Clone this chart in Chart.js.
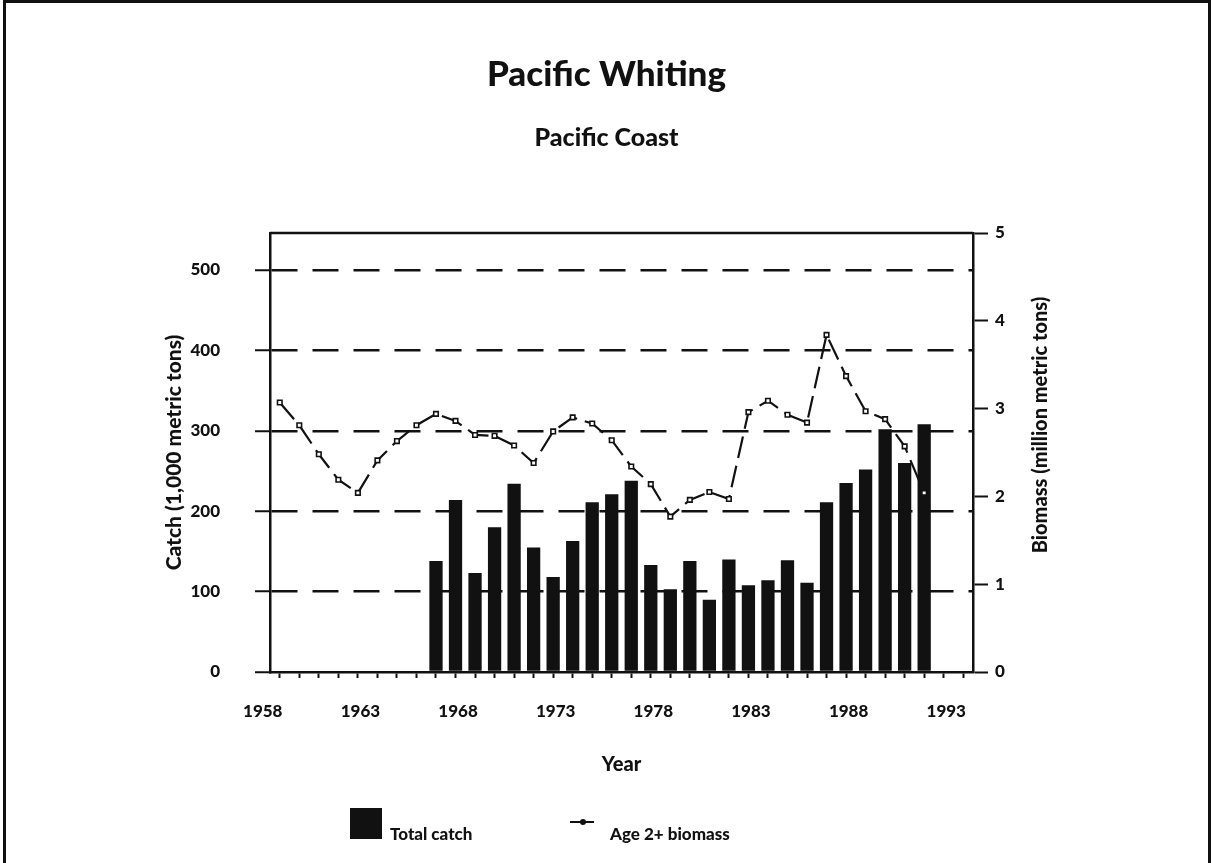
<!DOCTYPE html>
<html>
<head>
<meta charset="utf-8">
<title>Pacific Whiting</title>
<script src="https://cdn.jsdelivr.net/npm/chart.js@4.4.1/dist/chart.umd.min.js"></script>
<style>
  html, body { margin: 0; padding: 0; background: #fff; }
  #wrap { position: relative; width: 1213px; height: 863px; overflow: hidden; font-family: Lato, 'DejaVu Sans', sans-serif; color: #111; }
  #frame { position: absolute; left: 3px; top: 0; width: 1208px; height: 900px; border: 3px solid #111; box-sizing: border-box; pointer-events: none; }
  #chart { position: absolute; left: 0; top: 0; }
  .lg-text { position: absolute; font-weight: 900; font-size: 17px; line-height: 18px; }
  .lg-box { position: absolute; left: 350px; top: 808px; width: 32px; height: 31px; background: #111; }
  .lg-line { position: absolute; left: 570px; top: 821px; width: 24px; height: 2px; background: #111; }
  .lg-dot { position: absolute; left: 580px; top: 819px; width: 6px; height: 6px; border-radius: 50%; background: #111; }
</style>
</head>
<body>
<div id="wrap">
  <canvas id="chart" width="1213" height="863"></canvas>
  <div id="frame"></div>
  <div class="lg-box"></div>
  <div class="lg-text" style="left:390px;top:825px">Total catch</div>
  <div class="lg-line"></div>
  <div class="lg-dot"></div>
  <div class="lg-text" style="left:610px;top:825px">Age 2+ biomass</div>
</div>
<script>
const years = [1958, 1959, 1960, 1961, 1962, 1963, 1964, 1965, 1966, 1967, 1968, 1969,
  1970, 1971, 1972, 1973, 1974, 1975, 1976, 1977, 1978, 1979, 1980, 1981,
  1982, 1983, 1984, 1985, 1986, 1987, 1988, 1989, 1990, 1991, 1992, 1993];

// total catch, 1,000 metric tons
const catchYears = [1966, 1967, 1968, 1969, 1970, 1971, 1972, 1973, 1974, 1975, 1976, 1977, 1978,
  1979, 1980, 1981, 1982, 1983, 1984, 1985, 1986, 1987, 1988, 1989, 1990, 1991];
const catchValues = [138, 214, 123, 180, 234, 155, 118, 163, 211, 221, 238, 133, 103,
  138, 90, 140, 108, 114, 139, 111, 211, 235, 252, 302, 260, 308];

// age 2+ biomass, million metric tons
const biomassYears = [1958, 1959, 1960, 1961, 1962, 1963, 1964, 1965, 1966, 1967, 1968, 1969,
  1970, 1971, 1972, 1973, 1974, 1975, 1976, 1977, 1978, 1979, 1980, 1981,
  1982, 1983, 1984, 1985, 1986, 1987, 1988, 1989, 1990, 1991];
const biomassValues = [3.07, 2.81, 2.48, 2.19, 2.04, 2.41, 2.63, 2.81, 2.94, 2.86, 2.70, 2.69,
  2.58, 2.38, 2.74, 2.90, 2.83, 2.64, 2.34, 2.14, 1.77, 1.96, 2.05, 1.97,
  2.96, 3.09, 2.93, 2.84, 3.84, 3.37, 2.97, 2.88, 2.57, 2.04];

const leftTicks = [0, 100, 200, 300, 400, 500];
const rightTicks = [0, 1, 2, 3, 4, 5];

const INK = '#111';
const FONT = 'Lato, "DejaVu Sans", sans-serif';
const tickFont = { family: FONT, size: 17, weight: '900' };

const framePlugin = {
  id: 'frame',
  afterDraw(chart) {
    const { ctx, chartArea: a } = chart;
    ctx.save();
    ctx.strokeStyle = INK;
    ctx.lineWidth = 2.5;
    ctx.beginPath();
    ctx.moveTo(a.left, a.top);
    ctx.lineTo(a.right, a.top);
    ctx.stroke();
    // right axis title reads bottom to top
    ctx.translate(1041, 425);
    ctx.rotate(-Math.PI / 2);
    ctx.fillStyle = INK;
    ctx.font = `900 20px ${FONT}`;
    ctx.textAlign = 'center';
    ctx.textBaseline = 'middle';
    ctx.fillText('Biomass (million metric tons)', 0, 0);
    ctx.restore();
  }
};

new Chart(document.getElementById('chart'), {
  type: 'bar',
  data: {
    labels: years.map(String),
    datasets: [
      {
        type: 'line',
        label: 'Age 2+ biomass',
        yAxisID: 'y1',
        order: 0,
        data: biomassYears.map((y, i) => ({ x: String(y), y: biomassValues[i] })),
        borderColor: INK,
        borderWidth: 2.2,
        borderDash: [22, 8],
        pointStyle: 'rect',
        pointRadius: 3.2,
        pointBackgroundColor: '#fff',
        pointBorderColor: INK,
        pointBorderWidth: 1.6,
        tension: 0
      },
      {
        type: 'bar',
        label: 'Total catch',
        yAxisID: 'y',
        order: 1,
        data: catchYears.map((y, i) => ({ x: String(y), y: catchValues[i] })),
        backgroundColor: INK,
        barPercentage: 0.68,
        categoryPercentage: 1
      }
    ]
  },
  options: {
    responsive: false,
    animation: false,
    layout: { padding: 0 },
    plugins: {
      legend: { display: false },
      tooltip: { enabled: false },
      title: {
        display: true, text: 'Pacific Whiting', color: INK,
        font: { family: FONT, size: 35, weight: '900', lineHeight: 1.2 },
        padding: { top: 54, bottom: 0 }
      },
      subtitle: {
        display: true, text: 'Pacific Coast', color: INK,
        font: { family: FONT, size: 25, weight: '900', lineHeight: 1.2 },
        padding: { top: 27, bottom: 80 }
      }
    },
    scales: {
      x: {
        type: 'category',
        offset: true,
        grid: { drawOnChartArea: false, offset: false, tickLength: 6, tickColor: INK, tickWidth: 2 },
        border: { color: INK, width: 2.5 },
        ticks: {
          autoSkip: false, maxRotation: 0, minRotation: 0,
          labelOffset: -17, padding: 23, color: INK, font: tickFont,
          callback: (v, i) => (years[i] - years[0]) % 5 === 0 ? String(years[i]) : ''
        },
        title: {
          display: true, text: 'Year', color: INK,
          font: { family: FONT, size: 20, weight: '900' },
          padding: { top: 0, bottom: 86 }
        },
        afterFit: s => { s.height = 191; }
      },
      y: {
        position: 'left',
        min: 0, max: 546,
        afterBuildTicks: s => { s.ticks = leftTicks.map(v => ({ value: v })); },
        grid: {
          color: c => c.tick && c.tick.value === 0 ? 'rgba(0,0,0,0)' : INK,
          lineWidth: 2.5, tickLength: 15, tickColor: INK, tickWidth: 2, tickBorderDash: []
        },
        border: { color: INK, width: 2.5, dash: [26, 15] },
        ticks: { padding: 35, color: INK, font: tickFont },
        title: {
          display: true, text: 'Catch (1,000 metric tons)', color: INK,
          font: { family: FONT, size: 21, weight: '900' },
          padding: { top: 162 }
        },
        afterFit: s => { s.width = 270; }
      },
      y1: {
        position: 'right',
        min: 0, max: 5,
        afterBuildTicks: s => { s.ticks = rightTicks.map(v => ({ value: v })); },
        grid: { drawOnChartArea: false, tickLength: 15, tickColor: INK, tickWidth: 2 },
        border: { color: INK, width: 2.5 },
        ticks: { padding: 7, color: INK, font: tickFont },
        afterFit: s => { s.width = 240; }
      }
    }
  },
  plugins: [framePlugin]
});
</script>
</body>
</html>
